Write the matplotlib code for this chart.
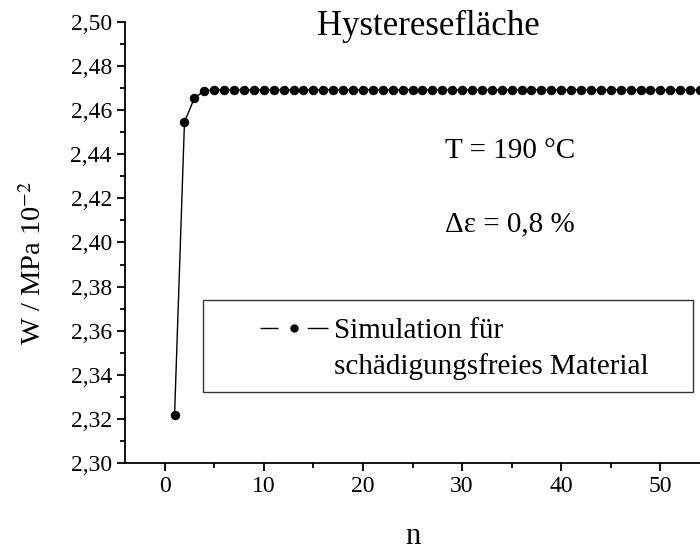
import numpy as np
import matplotlib
matplotlib.use('Agg')
import matplotlib.pyplot as plt
from matplotlib.ticker import MultipleLocator, FuncFormatter
from matplotlib.lines import Line2D
from matplotlib.patches import Rectangle

plt.rcParams['font.family'] = ['Liberation Serif', 'DejaVu Serif']
plt.rcParams['mathtext.fontset'] = 'stix'

# data
n_start = [1, 2, 3, 4]
w_start = [2.3218, 2.4547, 2.4655, 2.4688]
n_plateau = list(range(5, 56))
w_plateau = [2.4692] * len(n_plateau)
n = n_start + n_plateau
w = w_start + w_plateau

title = 'Hysteresefläche'
label_lines = ['Simulation für', 'schädigungsfreies Material']

fig = plt.figure(figsize=(7, 5.52), dpi=100)
ax = fig.add_axes([125/700, 1-463/552, 1-125/700, (463-22)/552])

ax.plot(n, w, color='black', lw=1, marker='o', ms=5.8)

ax.set_xlim(-4, 54)
ax.set_ylim(2.30, 2.50)
ax.xaxis.set_major_locator(MultipleLocator(10))
ax.xaxis.set_minor_locator(MultipleLocator(5))
ax.yaxis.set_major_locator(MultipleLocator(0.02))
ax.yaxis.set_minor_locator(MultipleLocator(0.01))
ax.yaxis.set_major_formatter(FuncFormatter(lambda v, p: f'{v:.2f}'.replace('.', ',')))
ax.tick_params(which='both', direction='out', labelsize=17, width=1.3)
ax.tick_params(which='major', length=6)
ax.tick_params(which='minor', length=3.5)
for s in ['top', 'right']:
    ax.spines[s].set_visible(False)
for s in ['left', 'bottom']:
    ax.spines[s].set_linewidth(1.3)

fig.text(34/700, 1-263/552, 'W / MPa 10$^{-2}$', rotation=90, fontsize=20.5,
         ha='center', va='center')
ax.set_xlabel('n', fontsize=22, labelpad=18)

ax.text(0.528, 0.991, title, transform=ax.transAxes, fontsize=25, ha='center', va='center')
ax.text(0.557, 0.707, 'T = 190 °C', transform=ax.transAxes, fontsize=21, va='center')
ax.text(0.557, 0.542, 'Δε = 0,8 %', transform=ax.transAxes, fontsize=21, va='center')

# legend frame and entry
ax.add_patch(Rectangle((78/575, 71/441), 490/575, 92/441, transform=ax.transAxes,
                       fill=False, edgecolor='#333333', lw=1, clip_on=False))
handle = Line2D([], [], color='black', lw=1, marker='o', ms=5,
                linestyle=(0, (13, 21, 15, 0.01)))
blank = Line2D([], [], linestyle='none')
leg = ax.legend([handle, blank], label_lines, loc='upper left',
                bbox_to_anchor=(135/575, 145/441),
                fontsize=21, frameon=False, handlelength=2.33, borderpad=0,
                handletextpad=0.2, borderaxespad=0, labelspacing=0.3)

fig.savefig('out.png', dpi=100)
